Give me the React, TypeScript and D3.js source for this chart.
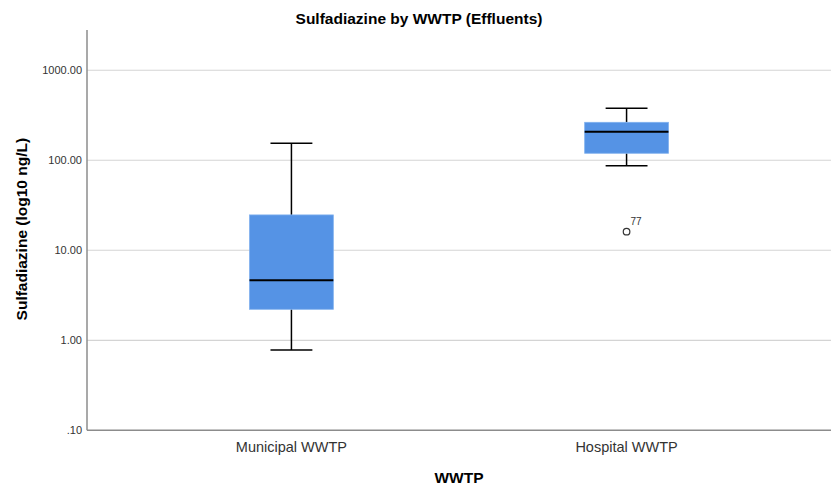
import React from "react";
import * as d3 from "d3";

const categories = ["Municipal WWTP", "Hospital WWTP"];
const whiskerLow = [0.78, 87];
const q1 = [2.21, 119.6];
const median = [4.64, 208];
const q3 = [24.7, 264];
const whiskerHigh = [154.5, 378];
const outliers = [{ cat: "Hospital WWTP", value: 16.1, label: "77" }];
const yTicks = [0.1, 1, 10, 100, 1000];
const yTickLabels = [".10", "1.00", "10.00", "100.00", "1000.00"];

const W = 831;
const H = 488;
const left = 87;
const right = 831;
const top = 30;
const bottom = 430.3;

export default function App() {
  const y = d3.scaleLog().domain([0.1, 2800]).range([bottom, top]);
  const x = d3.scalePoint<string>().domain(categories).range([left, right]).padding(0.61);
  const step = x.step();
  const boxW = step * 0.25;
  const capW = boxW / 2;
  const font = "'Liberation Sans', Arial, sans-serif";

  return (
    <svg width={W} height={H} style={{ position: "absolute", left: 0, top: 0, background: "#fff" }} fontFamily={font}>
      {yTicks.map((t, i) => (
        <g key={i}>
          {i > 0 && (
            <line x1={left} x2={right} y1={y(t)} y2={y(t)} stroke="#d4d4d4" strokeWidth={1.2} />
          )}
          <text x={82} y={y(t)} dy="0.35em" textAnchor="end" fontSize={11} fill="#333">
            {yTickLabels[i]}
          </text>
        </g>
      ))}
      <line x1={left} x2={left} y1={top} y2={bottom} stroke="#8c8c8c" strokeWidth={1.5} />
      <line x1={left} x2={right} y1={bottom} y2={bottom} stroke="#8c8c8c" strokeWidth={1.5} />

      {categories.map((c, i) => {
        const cx = x(c)!;
        return (
          <g key={c}>
            <line x1={cx} x2={cx} y1={y(whiskerHigh[i])} y2={y(q3[i])} stroke="#000" strokeWidth={1.5} />
            <line x1={cx} x2={cx} y1={y(q1[i])} y2={y(whiskerLow[i])} stroke="#000" strokeWidth={1.5} />
            <line x1={cx - capW / 2} x2={cx + capW / 2} y1={y(whiskerHigh[i])} y2={y(whiskerHigh[i])} stroke="#000" strokeWidth={1.5} />
            <line x1={cx - capW / 2} x2={cx + capW / 2} y1={y(whiskerLow[i])} y2={y(whiskerLow[i])} stroke="#000" strokeWidth={1.5} />
            <rect
              x={cx - boxW / 2}
              y={y(q3[i])}
              width={boxW}
              height={y(q1[i]) - y(q3[i])}
              fill="#5593e5"
              stroke="#7fb0ee"
              strokeWidth={0.8}
            />
            <line x1={cx - boxW / 2} x2={cx + boxW / 2} y1={y(median[i])} y2={y(median[i])} stroke="#000" strokeWidth={2} />
            <text x={cx} y={452} textAnchor="middle" fontSize={14.5} fill="#333">
              {c}
            </text>
          </g>
        );
      })}

      {outliers.map((o, i) => (
        <g key={i}>
          <circle cx={x(o.cat)!} cy={y(o.value)} r={3.3} fill="#fff" stroke="#333" strokeWidth={1.2} />
          <text x={x(o.cat)! + 4} y={y(o.value) - 7} fontSize={10} fill="#333">
            {o.label}
          </text>
        </g>
      ))}

      <text x={419} y={24} textAnchor="middle" fontSize={15.5} fontWeight="bold" fill="#000">
        Sulfadiazine by WWTP (Effluents)
      </text>
      <text x={(left + right) / 2} y={483} textAnchor="middle" fontSize={15.5} fontWeight="bold" fill="#000">
        WWTP
      </text>
      <text
        transform={`translate(27, ${(top + bottom) / 2 - 1}) rotate(-90)`}
        textAnchor="middle"
        fontSize={15.5}
        fontWeight="bold"
        fill="#000"
      >
        Sulfadiazine (log10 ng/L)
      </text>
    </svg>
  );
}
